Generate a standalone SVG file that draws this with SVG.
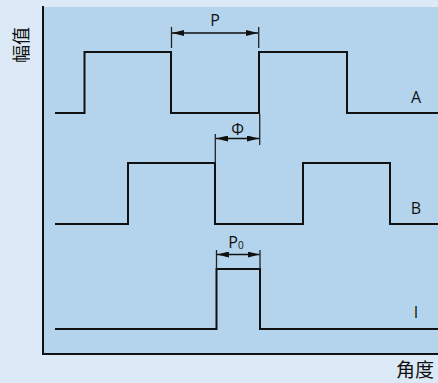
<svg xmlns="http://www.w3.org/2000/svg" width="438" height="383" viewBox="0 0 438 383">
<defs>
<style>
.wave{fill:none;stroke:#111;stroke-width:2;stroke-linejoin:miter}
.ext{fill:none;stroke:#222;stroke-width:1.3}
.dim{fill:none;stroke:#111;stroke-width:1.5}
.axis{fill:none;stroke:#111;stroke-width:2}
.lbl{font-family:"Open Sans","Noto Sans",sans-serif;font-size:16px;fill:#111;text-anchor:middle}
.cjk{font-family:"Noto Sans CJK SC",sans-serif;fill:#111;text-anchor:middle}
</style>
<marker id="ah" viewBox="0 0 12 6" refX="12" refY="3" markerWidth="12" markerHeight="6" markerUnits="userSpaceOnUse" orient="auto-start-reverse">
<path d="M0,0 L12,3 L0,6 Z" fill="#111"/>
</marker>
</defs>
<rect x="0" y="0" width="438" height="383" fill="#dce9f6"/>
<rect x="43" y="7" width="395" height="347" fill="#b3d4ec"/>
<g id="axes">
<path class="axis" d="M43,6 V354 H438"/>
<text class="cjk" font-size="18" transform="translate(28,45) rotate(-90)">幅值</text>
<text class="cjk" font-size="19" x="415" y="377">角度</text>
</g>
<g id="waveA">
<path class="wave" d="M55,113 H84.5 V52 H171 V113 H259 V52 H347 V113 H438"/>
<text class="lbl" x="416" y="103">A</text>
</g>
<g id="waveB">
<path class="wave" d="M55,224 H128 V163 H215 V224 H303 V163 H390 V224 H438"/>
<text class="lbl" x="416" y="214">B</text>
</g>
<g id="waveI">
<path class="wave" d="M55,329 H216.5 V269 H260 V329 H438"/>
<text class="lbl" x="416" y="318">I</text>
</g>
<g id="connectors">
<path class="ext" d="M171.5,27 V48 M258.7,27 V48"/>
<path class="dim" d="M172,33 H258" marker-start="url(#ah)" marker-end="url(#ah)"/>
<path class="ext" d="M215.3,134 V163 M259.7,114 V145"/>
<path class="dim" d="M216,138.5 H259" marker-start="url(#ah)" marker-end="url(#ah)"/>
<path class="ext" d="M216.5,250 V269 M260,250 V269"/>
<path class="dim" d="M217,254.5 H259.5" marker-start="url(#ah)" marker-end="url(#ah)"/>
</g>
<g id="dimLabels">
<text class="lbl" x="215" y="26" font-size="15">P</text>
<text class="lbl" x="237.5" y="135" font-size="15">Φ</text>
<text class="lbl" x="236" y="248" font-size="14">P<tspan font-size="10" dy="1">0</tspan></text>
</g>
</svg>
